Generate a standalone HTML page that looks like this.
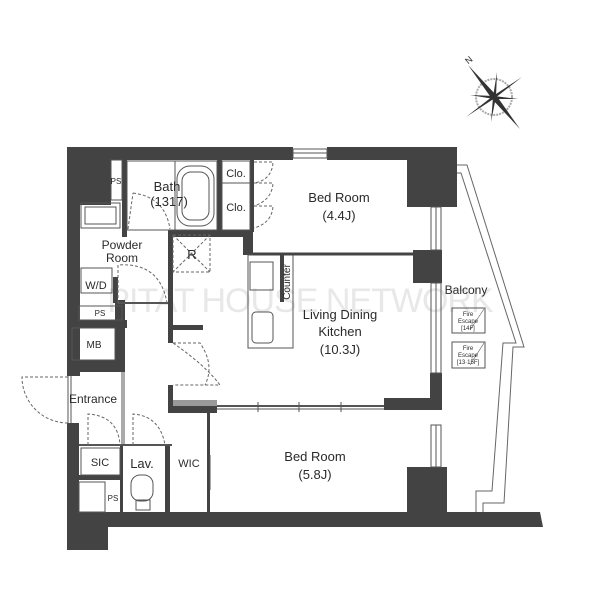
<!DOCTYPE html>
<html><head><meta charset="utf-8"><style>
html,body{margin:0;padding:0;background:#fff;}
svg{display:block;}
text{font-family:"Liberation Sans",Arial,sans-serif;fill:#2a2a2a;}
</style></head><body>
<svg width="600" height="600" viewBox="0 0 600 600" xmlns="http://www.w3.org/2000/svg">
<!-- watermark -->
<text x="300" y="312" font-size="34" text-anchor="middle" style="fill:#e8e8e8" letter-spacing="-1">PITAT HOUSE NETWORK</text>

<g fill="#434343">
<rect x="67" y="147" width="226" height="13"/>
<rect x="327" y="147" width="130" height="13"/>
<rect x="407" y="147" width="50" height="60"/>
<rect x="440" y="147" width="17" height="28"/>
<rect x="67" y="147" width="44" height="58"/>
<rect x="122" y="160" width="5" height="77"/>
<rect x="67" y="147" width="13" height="229"/>
<rect x="67" y="320" width="60" height="8"/>
<rect x="115" y="300" width="10" height="72"/>
<rect x="67" y="360" width="58" height="12"/>
<rect x="67" y="423" width="12" height="127"/>
<rect x="67" y="512" width="41" height="38"/>
<polygon points="67,512 540,512 543,527 67,527"/>
<rect x="407" y="467" width="40" height="50"/>
<rect x="413" y="250" width="29" height="33"/>
<rect x="430" y="373" width="12" height="37"/>
<rect x="384" y="398" width="58" height="12"/>
<rect x="217" y="160" width="5" height="72"/>
<rect x="250" y="160" width="4" height="72"/>
<rect x="168" y="230" width="85" height="7"/>
<rect x="243" y="230" width="10" height="25"/>
<rect x="168" y="230" width="5" height="113"/>
<rect x="168" y="385" width="5" height="25"/>
<rect x="173" y="325" width="30" height="5"/>
<rect x="280" y="255" width="4" height="47"/>
<rect x="113" y="277" width="5" height="26"/>
<rect x="120" y="445" width="3" height="68"/>
<rect x="165" y="445" width="5" height="68"/>
<rect x="207" y="413" width="3" height="100"/>
<rect x="168" y="406" width="49" height="7"/>
<rect x="79" y="475" width="41" height="5"/>
</g>

<g fill="none" stroke="#555" stroke-width="1">
<rect x="293" y="149" width="34" height="9"/>
<line x1="293" y1="153" x2="327" y2="153"/>
<rect x="431" y="207" width="10" height="43"/>
<rect x="431" y="283" width="10" height="90"/>
<rect x="431" y="425" width="10" height="42"/>
<line x1="436" y1="207" x2="436" y2="250"/><line x1="436" y1="283" x2="436" y2="373"/><line x1="436" y1="425" x2="436" y2="467"/>
<polyline points="457,165 467,165 524,347 513,347 504,503 483,503 483,512" stroke="#666"/>
<polyline points="457,173 461,173 516,343 503,343 492,491 476,491 476,512" stroke="#666"/>
<rect x="127" y="161" width="90" height="69"/>
<line x1="175" y1="161" x2="175" y2="230"/>
<rect x="177" y="166" width="37" height="60" rx="13"/>
<rect x="182" y="172" width="27" height="48" rx="9"/>
<rect x="222" y="161" width="28" height="22"/>
<rect x="222" y="183" width="28" height="47"/>
<rect x="81" y="203" width="39" height="25"/>
<rect x="85" y="207" width="31" height="17"/>
<rect x="81" y="268" width="31" height="25"/>
<rect x="79" y="306" width="43" height="14"/>
<rect x="72" y="328" width="43" height="32"/>
<rect x="111" y="160" width="11" height="40"/>
<line x1="118" y1="303" x2="168" y2="303" stroke-width="2"/>
<rect x="248" y="255" width="45" height="93"/>
<rect x="250" y="262" width="23" height="28"/>
<rect x="252" y="312" width="21" height="31" rx="4"/>
<line x1="122" y1="372" x2="122" y2="445"/><line x1="124" y1="372" x2="124" y2="445"/>
<line x1="68" y1="376" x2="68" y2="423"/><line x1="71" y1="376" x2="71" y2="423"/>
<line x1="79" y1="445" x2="172" y2="445" stroke-width="2"/>
<rect x="81" y="448" width="39" height="27"/>
<rect x="79" y="482" width="26" height="30"/>
<line x1="253" y1="254" x2="413" y2="254" stroke-width="3" stroke="#444"/>
<line x1="217" y1="406" x2="384" y2="406" stroke-width="2"/>
<line x1="217" y1="409" x2="384" y2="409"/>
<line x1="258" y1="402" x2="258" y2="412"/><line x1="299" y1="402" x2="299" y2="412"/><line x1="341" y1="402" x2="341" y2="412"/>
<line x1="210" y1="455" x2="210" y2="490"/>
<rect x="452" y="308" width="33" height="25"/>
<rect x="452" y="342" width="33" height="26"/>
<line x1="470" y1="330" x2="484" y2="309" stroke-width=".6"/>
<line x1="470" y1="365" x2="484" y2="343" stroke-width=".6"/>
<rect x="131" y="475" width="22" height="26" rx="9"/>
<rect x="136" y="500" width="14" height="10"/>
</g>

<rect x="173" y="400" width="44" height="6" fill="#999"/>

<g fill="none" stroke="#666" stroke-width="1" stroke-dasharray="3,2">
<rect x="173" y="235" width="37" height="37"/>
<line x1="173" y1="235" x2="210" y2="272"/><line x1="210" y1="235" x2="173" y2="272"/>
<path d="M128,229 L133,193 M133,193 Q165,197 170,229"/>
<path d="M254,162 L273,162 Q272,180 254,183"/>
<path d="M254,183 L273,183 Q272,200 254,206 M254,206 L273,206 Q272,223 254,228"/>
<path d="M118,303 L118,265 Q160,262 167,303"/>
<path d="M173,343 L200,343 Q215,365 205,385 M173,343 Q205,365 220,385 L173,385"/>
<path d="M68,377 L22,377 A46,46 0 0 0 68,423"/>
<path d="M88,445 L88,414 Q118,416 120,445"/>
<path d="M133,445 L133,414 Q160,416 165,445"/>
</g>

<g transform="translate(494,97)">
<circle r="18" fill="none" stroke="#aaa" stroke-width="2" stroke-dasharray="2,1"/>
<g fill="#333">
<polygon points="-26,-32 2,-2 -2,2"/>
<polygon points="26,32 2,-2 -2,2"/>
<polygon points="28,-20 1,1 -1,-1"/>
<polygon points="-28,20 1,1 -1,-1"/>
<polygon points="3,-25 2,0 -1,0"/>
<polygon points="-3,25 2,0 -1,0"/>
<polygon points="-24,-2 0,2 0,-1"/>
<polygon points="24,2 0,2 0,-1"/>
</g>
<text x="-27" y="-32" font-size="9" transform="rotate(-40 -27 -34)">N</text>
</g>

<g text-anchor="middle">
<text x="167" y="191" font-size="13">Bath</text>
<text x="169" y="206" font-size="13">(1317)</text>
<text x="236" y="177" font-size="11">Clo.</text>
<text x="236" y="211" font-size="11">Clo.</text>
<text x="339" y="202" font-size="13">Bed Room</text>
<text x="339" y="220" font-size="13">(4.4J)</text>
<text x="122" y="249" font-size="12">Powder</text>
<text x="122" y="262" font-size="12">Room</text>
<text x="192" y="259" font-size="13">R</text>
<text x="96" y="289" font-size="11">W/D</text>
<text x="116" y="184" font-size="8">PS</text>
<text x="100" y="316" font-size="8">PS</text>
<text x="94" y="348" font-size="10">MB</text>
<text x="93" y="403" font-size="12">Entrance</text>
<text x="100" y="466" font-size="11">SIC</text>
<text x="142" y="468" font-size="13">Lav.</text>
<text x="189" y="467" font-size="11">WIC</text>
<text x="113" y="501" font-size="8">PS</text>
<text x="340" y="319" font-size="13">Living Dining</text>
<text x="340" y="336" font-size="13">Kitchen</text>
<text x="340" y="354" font-size="13">(10.3J)</text>
<text x="315" y="461" font-size="13">Bed Room</text>
<text x="315" y="479" font-size="13">(5.8J)</text>
<text x="466" y="294" font-size="12">Balcony</text>
<text x="468" y="316" font-size="6">Fire</text>
<text x="468" y="323" font-size="6">Escape</text>
<text x="468" y="330" font-size="6">[14F]</text>
<text x="468" y="350" font-size="6">Fire</text>
<text x="468" y="357" font-size="6">Escape</text>
<text x="468" y="364" font-size="6">[13·15F]</text>
<text x="290" y="282" font-size="10" transform="rotate(-90 290 282)">Counter</text>
</g>
</svg>
</body></html>
